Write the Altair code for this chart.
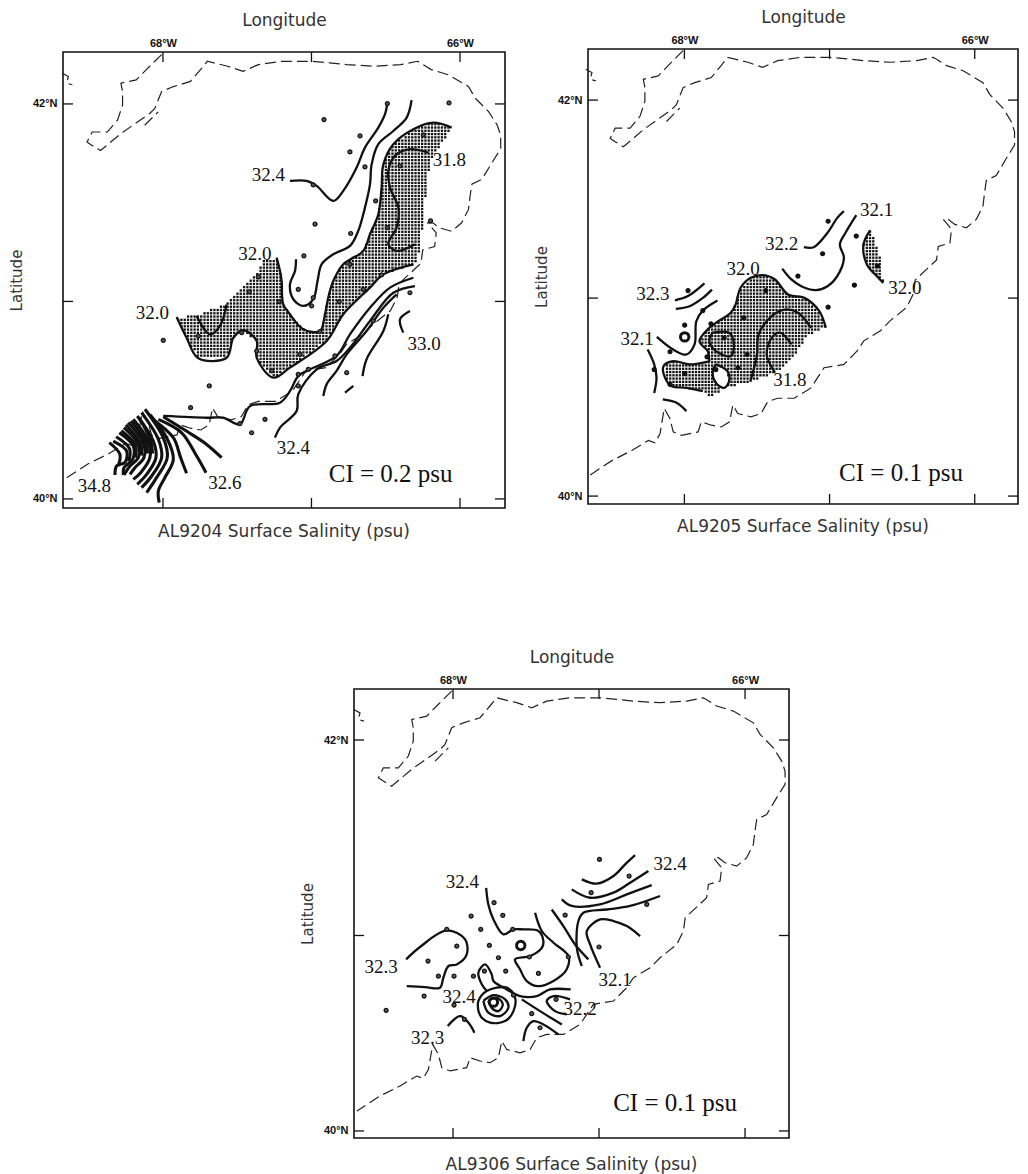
import altair as alt
import numpy as np
import pandas as pd

# ---------- shared outline (west longitude, north latitude) ----------
COAST = [(68.009,42.250),(68.112,42.174),(68.180,42.122),(68.283,42.105),(68.272,42.063),(68.272,41.994),(68.306,41.918),(68.374,41.858),(68.477,41.858),(68.511,41.807),(68.477,41.790),(68.420,41.764),(68.283,41.850),(68.089,41.952),(68.055,41.977),(68.009,42.063),(67.929,42.088),(67.815,42.114),(67.747,42.174),(67.701,42.216),(67.564,42.191),(67.461,42.165),(67.358,42.199),(67.199,42.216),(66.993,42.216),(66.879,42.208),(66.765,42.199),(66.582,42.191),(66.400,42.199),(66.285,42.216),(66.194,42.174),(66.080,42.148),(65.943,42.088),(65.897,42.029),(65.806,41.960),(65.749,41.892),(65.726,41.841),(65.726,41.773),(65.783,41.705),(65.852,41.619),(65.920,41.594),(65.932,41.534),(65.943,41.466),(65.989,41.398),(66.057,41.355),(66.137,41.372),(66.183,41.398),(66.217,41.398),(66.160,41.347),(66.171,41.278),(66.251,41.261),(66.263,41.193),(66.410,41.091),(66.422,41.023),(66.468,40.954),(66.582,40.886),(66.650,40.835),(66.764,40.784),(66.810,40.733),(66.901,40.665),(67.038,40.648),(67.130,40.545),(67.244,40.494),(67.358,40.494),(67.426,40.477),(67.472,40.417),(67.541,40.400),(67.632,40.417),(67.666,40.460),(67.689,40.375),(67.746,40.349),(67.815,40.358),(67.883,40.375),(67.906,40.324),(68.020,40.307),(68.077,40.324),(68.100,40.392),(68.139,40.443),(68.168,40.315),(68.203,40.269),(68.248,40.281),(68.363,40.230),(68.500,40.179),(68.658,40.102)]
COAST_B = [(68.680,42.156),(68.637,42.139),(68.648,42.105),(68.610,42.097)]
COAST_C = [(68.123,41.892),(68.032,41.960)]
COASTS = {"c": COAST, "b": COAST_B, "s": COAST_C}

TICKS_LON = [68, 67, 66]
TICKS_LAT = [42, 41, 40]
LABEL_LON = [68, 66]
LABEL_LAT = [42, 40]

# ---------- AL9204 ----------
P1_ARC_N = [(66.056,41.880),(66.180,41.905),(66.314,41.872),(66.449,41.796),(66.516,41.694),(66.528,41.576),(66.550,41.441),(66.606,41.340),(66.651,41.256),(66.786,41.188),(66.853,41.103),(66.887,41.019),(66.909,40.935),(66.943,40.850),(67.055,40.859),(67.145,40.935),(67.190,40.985),(67.201,41.103),(67.212,41.154),(67.235,41.222)]
P1_LINK = [(67.324,41.205),(67.392,41.121),(67.437,41.086),(67.504,41.036),(67.594,40.985),(67.773,40.926)]
P1_ARC_S = [(67.908,40.921),(67.841,40.816),(67.762,40.712),(67.571,40.715),(67.526,40.816),(67.459,40.854),(67.369,40.800),(67.369,40.715),(67.257,40.614),(67.145,40.665),(66.898,40.800),(66.786,40.935),(66.606,41.070),(66.516,41.137),(66.314,41.188)]
P1_EDGE = [(66.281,41.222),(66.258,41.340),(66.236,41.509),(66.202,41.711)]
P1_LINES = {
 "a": [(67.145,41.610),(67.033,41.610),(66.965,41.585),(66.853,41.509),(66.786,41.560),(66.696,41.678),(66.640,41.779),(66.550,41.880),(66.505,41.948),(66.489,42.007)],
 "b": [(66.326,42.019),(66.359,41.931),(66.449,41.863),(66.550,41.796),(66.595,41.694),(66.606,41.593),(66.640,41.475),(66.685,41.357),(66.741,41.281),(66.853,41.239),(66.932,41.188),(66.959,41.104),(66.988,41.011),(67.055,40.977),(67.122,41.011),(67.145,41.086),(67.111,41.154),(67.104,41.214)],
 "n": P1_ARC_N, "s": P1_ARC_S,
 "m": [(66.213,41.754),(66.348,41.770),(66.438,41.737),(66.483,41.661),(66.471,41.576),(66.415,41.475),(66.427,41.374),(66.483,41.290),(66.427,41.256),(66.303,41.290)],
 "i": [(67.773,40.926),(67.684,40.833),(67.616,40.876),(67.571,40.985)],
 "la": [(66.314,41.120),(66.471,41.070),(66.606,40.968),(66.741,40.833),(66.831,40.724),(67.010,40.656),(67.089,40.622),(67.145,40.546),(67.212,40.487),(67.414,40.470),(67.482,40.378),(67.594,40.411),(67.706,40.411),(67.998,40.420)],
 "lb": [(66.303,41.078),(66.449,41.044),(66.606,40.901),(66.741,40.766),(66.831,40.698),(66.965,40.656),(67.089,40.530),(67.100,40.445),(67.212,40.361),(67.246,40.310)],
 "lc": [(66.427,41.036),(66.516,40.968),(66.629,40.850),(66.763,40.732),(66.831,40.648),(66.898,40.580),(66.920,40.521)],
 "le": [(66.483,40.935),(66.516,40.850),(66.629,40.707),(66.656,40.622)],
 "ls": [(66.718,40.572),(66.774,40.538)],
 "e33": [(66.337,40.951),(66.404,40.909),(66.382,40.842)],
 "fa": [(67.998,40.416),(67.807,40.327),(67.706,40.276),(67.605,40.209)],
 "fb": [(68.031,40.403),(67.874,40.335),(67.773,40.217),(67.710,40.133)],
 "fc": [(68.054,40.395),(67.930,40.310),(67.881,40.209),(67.841,40.130)],
 "fd": [(68.088,40.428),(67.975,40.310),(67.930,40.200),(67.987,40.108),(68.031,40.040),(68.025,39.981)],
 "fe": [(68.121,40.454),(67.998,40.310),(67.971,40.209),(68.043,40.108),(68.110,40.032)],
 "ff": [(68.144,40.437),(68.031,40.302),(68.009,40.209),(68.076,40.116),(68.144,40.057)],
 "fg": [(68.173,40.420),(68.065,40.293),(68.047,40.209),(68.110,40.124),(68.173,40.074)],
 "fh": [(68.200,40.403),(68.099,40.293),(68.088,40.209),(68.150,40.133),(68.200,40.099)],
 "fi": [(68.234,40.386),(68.132,40.285),(68.128,40.209),(68.189,40.158),(68.222,40.124)],
 "fj": [(68.263,40.361),(68.166,40.276),(68.166,40.209),(68.222,40.167),(68.263,40.121)],
 "fk": [(68.294,40.335),(68.200,40.268),(68.204,40.200),(68.263,40.158),(68.267,40.121)],
 "fl": [(68.335,40.293),(68.245,40.243),(68.256,40.184),(68.312,40.167),(68.323,40.121)],
 "fm": [(68.361,40.285),(68.290,40.226),(68.301,40.167)],
 "fn": [(68.160,40.410),(68.085,40.300),(68.070,40.230)],
 "fo": [(68.215,40.395),(68.115,40.290),(68.105,40.230)],
 "fp": [(68.250,40.375),(68.150,40.280),(68.145,40.220)],
 "fq": [(68.280,40.345),(68.185,40.272),(68.185,40.210)],
 "fr": [(68.315,40.315),(68.225,40.255),(68.230,40.190)],
}
P1_STATIONS = [(66.916,41.921),(66.489,42.002),(66.074,42.005),(66.673,41.838),(66.741,41.757),(66.640,41.681),(66.988,41.590),(66.568,41.509),(66.976,41.391),(66.736,41.344),(67.051,41.231),(66.247,41.843),(66.404,41.686),(66.489,41.374),(66.198,41.408),(66.741,41.188),(67.089,41.061),(66.988,41.019),(66.999,40.977),(67.419,41.049),(67.217,40.999),(67.358,41.124),(66.813,40.999),(66.651,41.061),(66.528,41.134),(66.337,41.044),(67.998,40.803),(67.762,40.825),(67.470,40.842),(67.369,40.749),(67.077,40.732),(66.943,40.847),(67.268,40.648),(66.842,40.724),(67.021,40.656),(67.089,40.631),(67.089,40.572),(66.763,40.639),(66.584,40.901),(67.688,40.572),(67.814,40.462),(67.313,40.403),(67.403,40.335),(67.482,40.381)]
P1_LABELS = [("32.4",67.291,41.641),("31.8",66.072,41.715),("32.0",67.381,41.239),("32.0",68.072,40.943),("33.0",66.242,40.786),("32.4",67.122,40.260),("32.6",67.583,40.082),("34.8",68.462,40.065)]
P1_NOTE = ("CI = 0.2 psu",66.467,40.124)

# ---------- AL9205 ----------
P2_POLY = [(67.026,40.850),(67.071,40.934),(67.173,41.001),(67.286,41.018),(67.376,41.094),(67.455,41.116),(67.546,41.102),(67.613,41.052),(67.647,40.968),(67.681,40.926),(67.783,40.875),(67.828,40.850),(67.896,40.782),(67.839,40.732),(67.828,40.681),(67.964,40.665),(68.077,40.681),(68.144,40.656),(68.133,40.597),(68.088,40.555),(67.986,40.547),(67.873,40.530),(67.828,40.500),(67.738,40.530),(67.783,40.572),(67.805,40.631),(67.783,40.665),(67.704,40.631),(67.692,40.580),(67.726,40.547),(67.546,40.577),(67.376,40.623),(67.263,40.690),(67.150,40.816)]
P2_SLIVER = [(66.721,41.342),(66.766,41.271),(66.743,41.170),(66.664,41.103),(66.630,41.077),(66.642,41.187),(66.687,41.288)]
P2_LINES = {
 "a": [(67.177,41.257),(67.109,41.257),(67.014,41.330),(66.947,41.405),(66.901,41.439)],
 "b": [(66.816,41.419),(66.890,41.330),(66.929,41.271),(66.901,41.203),(66.947,41.111),(67.014,41.060),(67.094,41.040),(67.195,41.060),(67.263,41.094),(67.326,41.149)],
 "main": P2_POLY[:15],
 "lobe": [(67.828,40.681),(67.964,40.665),(68.077,40.681),(68.144,40.656),(68.133,40.597),(68.088,40.555),(67.986,40.547),(67.873,40.530)],
 "notch": [(67.783,40.665),(67.704,40.631),(67.692,40.580),(67.726,40.547),(67.783,40.572),(67.805,40.631),(67.783,40.665)],
 "in": [(67.546,40.577),(67.500,40.715),(67.489,40.816),(67.399,40.909),(67.308,40.942),(67.218,40.926),(67.127,40.850)],
 "m": [(67.376,40.623),(67.433,40.715),(67.399,40.799),(67.342,40.825),(67.263,40.766)],
 "ring": [(67.805,40.825),(67.692,40.825),(67.659,40.766),(67.681,40.707),(67.783,40.732),(67.828,40.782),(67.805,40.825)],
 "c1": [(68.065,40.989),(67.975,41.010),(67.862,41.074)],
 "c2": [(68.059,40.946),(67.964,40.959),(67.873,41.001),(67.810,41.043)],
 "c3": [(67.772,40.988),(67.873,40.937),(67.918,40.883),(67.930,40.766),(67.986,40.715),(68.077,40.740),(68.190,40.804)],
 "w": [(68.253,40.740),(68.208,40.665),(68.192,40.597),(68.208,40.521)],
 "bt": [(68.149,40.488),(68.054,40.471),(67.986,40.429)],
 "sl": P2_SLIVER[:5],
}
P2_STATIONS = [(67.010,41.388),(66.816,41.313),(67.048,41.224),(67.218,41.111),(66.829,41.065),(67.010,40.954),(67.439,41.038),(67.591,40.900),(67.975,41.038),(67.998,40.863),(68.099,40.729),(67.873,40.937),(67.817,40.870),(67.844,40.703),(67.568,40.715),(67.631,40.648),(68.208,40.639),(67.998,40.619),(67.783,40.639),(67.726,40.799),(68.099,40.564),(66.671,41.162)]
P2_BIG = [(67.998,40.804)]
P2_LABELS = [("32.1",66.676,41.443),("32.2",67.331,41.274),("32.0",67.595,41.149),("32.3",68.217,41.021),("32.1",68.325,40.794),("31.8",67.274,40.585),("32.0",66.481,41.050)]
P2_NOTE = ("CI = 0.1 psu",66.508,40.116)

# ---------- AL9306 ----------
P3_LINES = {
 "a": [(67.118,41.287),(67.016,41.265),(66.901,41.304),(66.821,41.364),(66.753,41.411)],
 "b": [(67.187,41.236),(67.061,41.193),(66.901,41.219),(66.787,41.270),(66.662,41.330)],
 "c": [(67.255,41.185),(67.187,41.151),(66.993,41.159),(66.810,41.210),(66.639,41.258)],
 "d": [(67.118,40.844),(67.152,40.937),(67.141,41.074),(67.107,41.116),(66.947,41.133),(66.787,41.151),(66.582,41.202)],
 "e": [(66.993,40.835),(67.061,40.954),(67.084,41.023),(66.993,41.082),(66.901,41.074),(66.810,41.048),(66.719,40.997)],
 "f": [(67.324,41.133),(67.244,41.048),(67.164,40.954),(67.073,40.878)],
 "g": [(67.438,41.116),(67.392,41.023),(67.312,40.963),(67.210,40.895),(67.221,40.827),(67.312,40.767),(67.415,40.741),(67.495,40.767),(67.541,40.827),(67.575,40.878),(67.472,40.895),(67.392,40.937),(67.381,40.971),(67.415,41.023),(67.518,41.031),(67.586,41.031),(67.655,41.006),(67.723,41.082),(67.758,41.159),(67.773,41.244)],
 "h": [(68.321,40.878),(68.226,40.941),(68.043,41.026),(67.917,40.980),(67.906,40.903),(67.974,40.852),(68.031,40.844),(68.066,40.784),(68.089,40.733),(68.191,40.736),(68.317,40.741)],
 "i": [(67.769,40.716),(67.803,40.750),(67.826,40.810),(67.780,40.852),(67.735,40.801),(67.723,40.767),(67.632,40.724),(67.541,40.690),(67.426,40.690),(67.335,40.724),(67.194,40.724)],
 "j": [(67.529,40.673),(67.404,40.613),(67.255,40.545)],
 "k": [(67.198,40.673),(67.312,40.690),(67.358,40.665),(67.301,40.613),(67.221,40.596)],
 "l": [(67.518,40.460),(67.495,40.528),(67.449,40.562),(67.381,40.545),(67.278,40.494)],
 "m": [(68.036,40.537),(67.952,40.588),(67.894,40.554),(67.853,40.503)],
 "r1": [(67.826,40.613),(67.826,40.665),(67.769,40.716),(67.632,40.733),(67.575,40.682),(67.586,40.613),(67.643,40.562),(67.746,40.554),(67.803,40.579),(67.826,40.613)],
 "r2": [(67.792,40.665),(67.723,40.695),(67.643,40.673),(67.621,40.630),(67.678,40.588),(67.758,40.605),(67.792,40.665)],
 "r3": [(67.758,40.665),(67.700,40.682),(67.659,40.648),(67.689,40.613),(67.735,40.630),(67.758,40.665)],
}
P3_STATIONS = [(66.997,41.389),(66.794,41.304),(67.054,41.219),(66.673,41.159),(67.719,41.168),(67.876,41.099),(67.659,41.103),(67.810,41.031),(67.591,41.031),(67.751,40.949),(67.974,40.946),(68.171,40.869),(67.689,40.886),(67.477,40.890),(68.100,40.792),(67.993,40.792),(67.860,40.792),(67.785,40.818),(67.639,40.818),(67.415,40.806),(67.210,40.890),(67.000,40.941),(67.232,41.104),(68.043,41.031),(68.198,40.690),(67.993,40.644),(68.458,40.617),(67.922,40.571),(67.586,40.695),(67.461,40.600),(67.294,40.673),(67.404,40.528)]
P3_BIG = [(67.536,40.949),(67.723,40.659)]
P3_LABELS = [("32.4",66.513,41.367),("32.4",67.936,41.275),("32.3",68.493,40.839),("32.4",67.958,40.685),("32.1",66.890,40.770),("32.2",67.130,40.622),("32.3",68.173,40.474)]
P3_NOTE = ("CI = 0.1 psu",66.479,40.143)


def lines_frame(lines):
    rows = []
    for name, pts in lines.items():
        for i, (lon, lat) in enumerate(pts):
            rows.append({"lon": lon, "lat": lat, "line": name, "seq": i})
    return pd.DataFrame(rows)


def pts_frame(pts):
    return pd.DataFrame(pts, columns=["lon", "lat"])


def stipple(polys):
    glon, glat = np.meshgrid(np.arange(65.7, 68.7, 0.0222), np.arange(39.95, 42.3, 0.0165))
    glon, glat = glon.ravel(), glat.ravel()
    keep = np.zeros(glon.shape, bool)
    for poly in polys:
        p = np.array(poly)
        inside = np.zeros(glon.shape, bool)
        for k in range(len(p)):
            x1, y1 = p[k]
            x2, y2 = p[(k + 1) % len(p)]
            cross = ((y1 > glat) != (y2 > glat)) & (glon < (x2 - x1) * (glat - y1) / (y2 - y1 + 1e-12) + x1)
            inside ^= cross
        keep |= inside
    return pd.DataFrame({"lon": glon[keep], "lat": glat[keep]})


TXT = "DejaVu Sans"
SERIF = "Liberation Serif"


def panel(title, w, h, inset, lon_dom, lat_dom, lines, stations, big, labels, note, polys, fan=(), st_fill="#555555", title_offset=8):
    sx = alt.Scale(domain=lon_dom, nice=False, zero=False)
    sy = alt.Scale(domain=lat_dom, nice=False, zero=False, range=[h, inset])
    ax = alt.Axis(values=LABEL_LON, labelExpr="datum.value + '°W'", orient="top", title="Longitude", offset=-inset,
                  labelFont="Liberation Sans", labelFontWeight="bold", labelFontSize=11, labelColor="#111",
                  labelPadding=4, titleFont=TXT, titleFontSize=17, titleFontWeight="normal", titleColor="#333",
                  titlePadding=8, domain=False, ticks=False, grid=False)
    ay = alt.Axis(values=LABEL_LAT, labelExpr="datum.value + '°N'", orient="left", title="Latitude",
                  labelFont="Liberation Sans", labelFontWeight="bold", labelFontSize=11, labelColor="#111",
                  labelPadding=6, titleFont=TXT, titleFontSize=15, titleFontWeight="normal", titleColor="#333",
                  titlePadding=8, domain=False, ticks=False, grid=False)
    X = alt.X("lon:Q", scale=sx, axis=ax)
    Y = alt.Y("lat:Q", scale=sy, axis=ay)
    tlon = pd.DataFrame({"lon": TICKS_LON})
    tlat = pd.DataFrame({"lat": TICKS_LAT})
    L = 10
    layers = [
        alt.Chart(pd.DataFrame({"a": [0]})).mark_rect(filled=False, stroke="#111", strokeWidth=1.6).encode(
            x=alt.value(0), x2=alt.value(w), y=alt.value(inset), y2=alt.value(h)),
        alt.Chart(tlon).mark_rule(color="#111", strokeWidth=1.3).encode(x=X, y=alt.value(inset), y2=alt.value(inset + L)),
        alt.Chart(tlon).mark_rule(color="#111", strokeWidth=1.3).encode(x=X, y=alt.value(h - L), y2=alt.value(h)),
        alt.Chart(tlat).mark_rule(color="#111", strokeWidth=1.3).encode(y=Y, x=alt.value(0), x2=alt.value(L)),
        alt.Chart(tlat).mark_rule(color="#111", strokeWidth=1.3).encode(y=Y, x=alt.value(w - L), x2=alt.value(w)),
    ]
    if polys:
        layers.append(alt.Chart(stipple(polys)).mark_square(size=5.3, color="#111", opacity=1).encode(x=X, y=Y))
    layers.append(
        alt.Chart(lines_frame(COASTS)).mark_line(color="#222", strokeWidth=1.2, strokeDash=[11, 5]).encode(
            x=X, y=Y, detail="line:N", order="seq:Q"))
    main = {k: v for k, v in lines.items() if k not in fan}
    layers.append(
        alt.Chart(lines_frame(main)).mark_line(color="#111", strokeWidth=2.3, interpolate="catmull-rom").encode(
            x=X, y=Y, detail="line:N", order="seq:Q"))
    if fan:
        fans = {k: lines[k] for k in fan}
        layers.append(
            alt.Chart(lines_frame(fans)).mark_line(color="#111", strokeWidth=3.1, interpolate="catmull-rom").encode(
                x=X, y=Y, detail="line:N", order="seq:Q"))
    layers.append(
        alt.Chart(pts_frame(stations)).mark_point(filled=True, fill=st_fill, stroke="#111", strokeWidth=1.2,
                                                  size=16, opacity=1).encode(x=X, y=Y))
    if big:
        layers.append(
            alt.Chart(pts_frame(big)).mark_point(filled=False, stroke="#111", strokeWidth=3, size=70, opacity=1).encode(x=X, y=Y))
    lab = pd.DataFrame(labels, columns=["text", "lon", "lat"])
    layers.append(
        alt.Chart(lab).mark_text(font=SERIF, fontSize=19, color="#111").encode(x=X, y=Y, text="text:N"))
    nt = pd.DataFrame([note], columns=["text", "lon", "lat"])
    layers.append(
        alt.Chart(nt).mark_text(font=SERIF, fontSize=25, color="#111").encode(x=X, y=Y, text="text:N"))
    return alt.layer(*layers).properties(
        width=w, height=h,
        title=alt.TitleParams(title, orient="bottom", font=TXT, fontSize=17, fontWeight="normal", color="#333", offset=title_offset),
    )


def spacer(w, h):
    return alt.Chart(pd.DataFrame({"a": [0]})).mark_point(opacity=0).encode(x=alt.value(0)).properties(width=w, height=h)


p1 = panel("AL9204 Surface Salinity (psu)", 442, 459, 3, [68.673, 65.697], [39.954, 42.263], P1_LINES, P1_STATIONS, [],
           P1_LABELS, P1_NOTE, [P1_ARC_N + P1_LINK + P1_ARC_S + P1_EDGE],
           fan=("fa", "fb", "fc", "fd", "fe", "ff", "fg", "fh", "fi", "fj", "fk", "fl", "fm", "fn", "fo", "fp", "fq", "fr"),
           title_offset=15)
p2 = panel("AL9205 Surface Salinity (psu)", 430, 455, 0, [68.664, 65.702], [39.960, 42.258], P2_LINES, P2_STATIONS, P2_BIG,
           P2_LABELS, P2_NOTE, [P2_POLY, P2_SLIVER], st_fill="#111111", title_offset=14)
p3 = panel("AL9306 Surface Salinity (psu)", 435, 449, 0, [68.678, 65.699], [39.964, 42.261], P3_LINES, P3_STATIONS, P3_BIG,
           P3_LABELS, P3_NOTE, [], title_offset=18)

top = alt.hconcat(p1, p2, spacing=26)
bottom = alt.hconcat(spacer(235, 1), p3, spacing=0)
chart = alt.vconcat(top, bottom, spacing=106).properties(
    padding={"left": 0, "right": 0, "top": -1, "bottom": 0}, background="white"
).configure_view(stroke="transparent")

chart.save("out.html", embed_options={"renderer": "svg", "actions": False})
